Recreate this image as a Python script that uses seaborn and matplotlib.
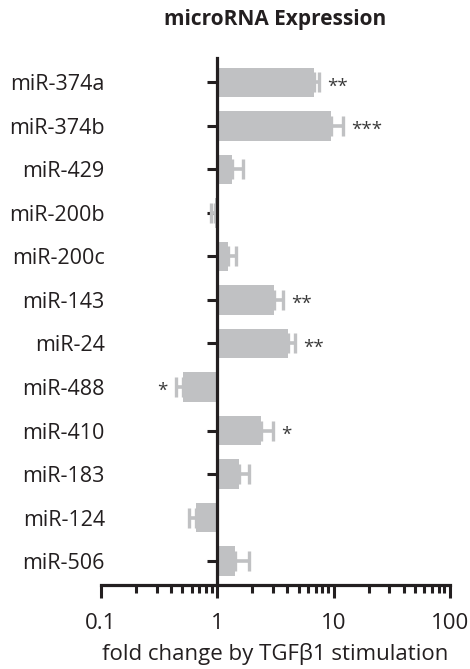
import numpy as np
import pandas as pd
import matplotlib
matplotlib.use("Agg")
import matplotlib.pyplot as plt
from matplotlib.ticker import FixedLocator
import seaborn as sns

mirnas = ["miR-374a", "miR-374b", "miR-429", "miR-200b", "miR-200c", "miR-143",
          "miR-24", "miR-488", "miR-410", "miR-183", "miR-124", "miR-506"]
fold_change = [6.8, 9.6, 1.34, 0.96, 1.23, 3.09, 4.07, 0.507, 2.39, 1.53, 0.66, 1.42]
sem = [0.7, 2.5, 0.31, 0.08, 0.22, 0.57, 0.6, 0.065, 0.61, 0.33, 0.09, 0.46]
stars = ["**", "***", "", "", "", "**", "**", "*", "*", "", "", ""]
x_ticks = [0.1, 1, 10, 100]
x_tick_labels = ["0.1", "1", "10", "100"]

bar_color = "#c0c1c3"
ink = "#231f20"

sns.set_style("ticks")
plt.rcParams['font.family'] = ['Open Sans', 'DejaVu Sans']

df = pd.DataFrame({"mirna": mirnas, "log_fc": np.log10(fold_change)})

fig = plt.figure(figsize=(4.7, 6.69), dpi=100)
ax = fig.add_axes([0.215, 0.1256, 0.742, 0.787])

sns.barplot(data=df, x="log_fc", y="mirna", orient="h", color=bar_color,
            saturation=1, width=0.68, linewidth=0, ax=ax, zorder=2)

# one-sided error bars, pointing away from 1
for i, (fc, s, st) in enumerate(zip(fold_change, sem, stars)):
    up = fc >= 1
    end = fc + s if up else fc - s
    lo, hi = (0, np.log10(end) - np.log10(fc)) if up else (np.log10(fc) - np.log10(end), 0)
    ax.errorbar(np.log10(fc), i, xerr=[[lo], [hi]], fmt="none", ecolor=bar_color,
                elinewidth=2.6, capsize=7, capthick=2.4, zorder=3, clip_on=False)
    if st:
        ax.annotate(st, (np.log10(end), i), xytext=(6 if up else -6, -3),
                    textcoords="offset points", ha="left" if up else "right",
                    va="center", fontsize=13.5, color="#3a3a3a")

ax.set_xlim(-1, 2)
ax.set_ylim(11.55, -0.55)
ax.set_xticks(np.log10(x_ticks))
ax.set_xticklabels(x_tick_labels)
minor = [np.log10(k * 10.0 ** d) for d in (-1, 0, 1) for k in range(2, 10)]
ax.xaxis.set_minor_locator(FixedLocator(minor))

for side in ("top", "right"):
    ax.spines[side].set_visible(False)
ax.spines["left"].set_position(("data", 0))
for side in ("left", "bottom"):
    ax.spines[side].set_linewidth(2.3)
    ax.spines[side].set_color(ink)
    ax.spines[side].set_zorder(5)

ax.tick_params(axis="y", direction="out", length=7, width=2.2, color=ink,
               pad=74, labelsize=15.5, labelcolor=ink)
ax.tick_params(axis="x", which="major", direction="out", length=9, width=2.2,
               color=ink, pad=11, labelsize=16, labelcolor=ink)
ax.tick_params(axis="x", which="minor", direction="out", length=5.5, width=2.2, color=ink)

ax.set_ylabel("")
ax.set_xlabel("fold change by TGF\u03b21 stimulation", fontsize=16, color=ink, labelpad=7)
ax.set_title("microRNA Expression", fontsize=15, fontweight="bold", color=ink, pad=24)

fig.savefig("out.png", dpi=100)
